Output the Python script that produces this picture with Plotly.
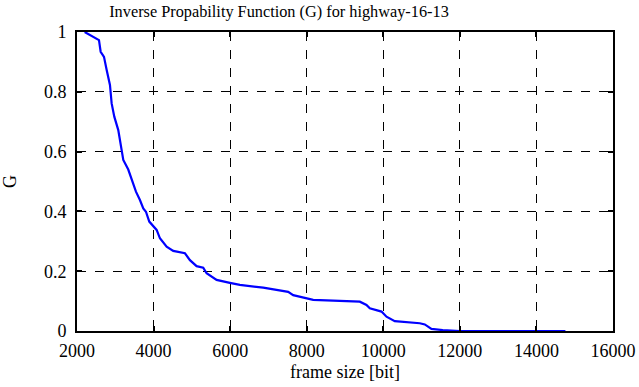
import plotly.graph_objects as go

frame_size = [2200, 2470, 2574, 2618, 2705, 2775, 2861, 2905, 2974, 3078, 3149, 3209, 3339, 3401,
              3427, 3540, 3644, 3731, 3801, 3888, 4080, 4166, 4341, 4514, 4819, 4950, 5124, 5297,
              5385, 5646, 5993, 6254, 6864, 7516, 7647, 7995, 8169, 9387, 9561, 9648, 9953, 10084,
              10300, 10953, 11084, 11258, 11553, 12000, 14757]
g_values = [1.0, 0.979, 0.973, 0.934, 0.917, 0.873, 0.823, 0.761, 0.717, 0.672, 0.611, 0.572, 0.540, 0.516,
            0.505, 0.466, 0.438, 0.410, 0.399, 0.366, 0.338, 0.310, 0.282, 0.268, 0.260, 0.237, 0.217, 0.212,
            0.193, 0.171, 0.161, 0.154, 0.145, 0.131, 0.120, 0.111, 0.104, 0.098, 0.087, 0.076, 0.065, 0.048,
            0.033, 0.026, 0.022, 0.007, 0.003, 0.0, 0.0]

x_ticks = [2000, 4000, 6000, 8000, 10000, 12000, 14000, 16000]
y_ticks = [0, 0.2, 0.4, 0.6, 0.8, 1]
y_tick_labels = ["0", "0.2", "0.4", "0.6", "0.8", "1"]

font_family = "Liberation Serif"

fig = go.Figure()
fig.add_trace(go.Scatter(x=frame_size, y=g_values, mode="lines",
                         line=dict(color="#0000ff", width=2.2), showlegend=False))

axis_common = dict(showline=True, linecolor="black", linewidth=2, mirror="ticks",
                   ticks="inside", ticklen=5, tickwidth=2, tickcolor="black",
                   showgrid=True, gridcolor="black", gridwidth=1, griddash="dash",
                   zeroline=False, automargin=False,
                   tickfont=dict(family=font_family, size=18, color="black"))

fig.update_xaxes(range=[2000, 16000], tickvals=x_ticks, ticktext=[str(v) for v in x_ticks],
                 ticklabelstandoff=2,
                 title=dict(text="frame size [bit]", font=dict(family=font_family, size=18, color="black"),
                            standoff=6),
                 **axis_common)
fig.update_yaxes(range=[0, 1], tickvals=y_ticks, ticktext=y_tick_labels, ticklabelstandoff=5,
                 title=dict(text="G", font=dict(family=font_family, size=18, color="black"), standoff=26),
                 **axis_common)

fig.update_layout(
    width=639, height=387,
    font=dict(family=font_family, color="black"),
    margin=dict(l=77, r=26, t=32, b=56),
    paper_bgcolor="white", plot_bgcolor="white",
    title=dict(text="Inverse Propability Function (G) for highway-16-13",
               font=dict(family=font_family, size=16.3, color="black"),
               x=(109 + 449) / 2 / 639, xanchor="center", y=1 - 11 / 387, yanchor="middle"),
)

fig.write_html("out.html", config={"displayModeBar": False},
               post_script="document.body.style.margin='0';document.body.style.padding='0';")
